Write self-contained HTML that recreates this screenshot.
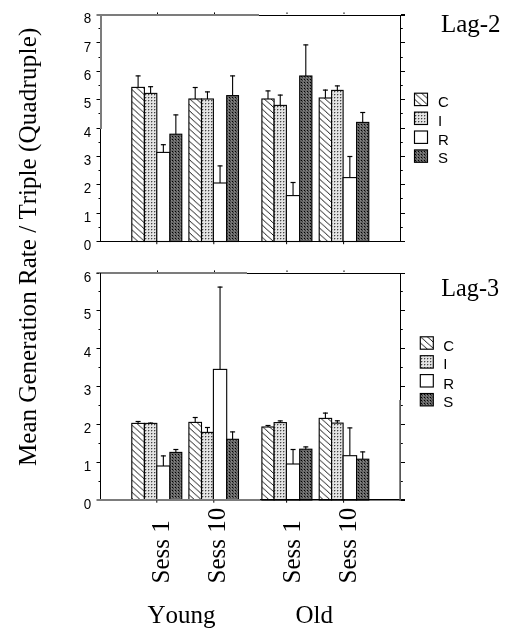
<!DOCTYPE html>
<html><head><meta charset="utf-8"><style>
html,body{margin:0;padding:0;background:#fff;}
svg{display:block;filter:grayscale(1);}
.tl{font-family:"Liberation Sans",sans-serif;font-size:14px;text-anchor:end;fill:#000;}
.lg{font-family:"Liberation Sans",sans-serif;font-size:15px;fill:#000;}
.sf{font-family:"Liberation Serif",serif;font-size:25px;fill:#000;font-kerning:none;}
</style></head><body>
<svg width="515" height="639" viewBox="0 0 515 639">
<defs>
<pattern id="hC" patternUnits="userSpaceOnUse" width="6.778" height="6.1" x="0" y="1.4">
<rect width="6.778" height="6.1" fill="#fff"/>
<line x1="-6.778" y1="-6.1" x2="13.556" y2="12.2" stroke="#000" stroke-width="1" shape-rendering="crispEdges"/>
</pattern>
<pattern id="lC1" patternUnits="userSpaceOnUse" width="6.889" height="6.2" x="414.5" y="93.0">
<rect width="6.889" height="6.2" fill="#fff"/>
<line x1="-6.889" y1="-6.2" x2="13.778" y2="12.4" stroke="#000" stroke-width="1" shape-rendering="crispEdges"/>
</pattern>
<pattern id="lC2" patternUnits="userSpaceOnUse" width="6.889" height="6.2" x="420.3" y="336.6">
<rect width="6.889" height="6.2" fill="#fff"/>
<line x1="-6.889" y1="-6.2" x2="13.778" y2="12.4" stroke="#000" stroke-width="1" shape-rendering="crispEdges"/>
</pattern>
<pattern id="hI" patternUnits="userSpaceOnUse" width="3" height="3">
<rect width="3" height="3" fill="#e4e4e4"/>
<rect x="1" y="1" width="1" height="1" fill="#444"/>
<rect x="2" y="1" width="1" height="1" fill="#b0b0b0"/>
<rect x="1" y="2" width="1" height="1" fill="#b0b0b0"/>
</pattern>
<pattern id="hS" patternUnits="userSpaceOnUse" width="3" height="3">
<rect width="3" height="3" fill="#686868"/>
<rect x="1" y="1" width="1" height="1" fill="#000"/>
<rect x="2" y="2" width="1" height="1" fill="#3a3a3a"/>
<rect x="0" y="2" width="1" height="1" fill="#8a8a8a"/>
</pattern>
</defs>
<rect width="515" height="639" fill="#fff"/>
<line x1="138.10" y1="87.40" x2="138.10" y2="75.40" stroke="#000" stroke-width="1.1"/>
<line x1="135.60" y1="75.90" x2="140.60" y2="75.90" stroke="#000" stroke-width="1.2"/>
<rect x="131.80" y="87.40" width="12.60" height="154.10" fill="url(#hC)" stroke="#000" stroke-width="1.1"/>
<line x1="150.60" y1="93.40" x2="150.60" y2="86.20" stroke="#000" stroke-width="1.1"/>
<line x1="148.10" y1="86.70" x2="153.10" y2="86.70" stroke="#000" stroke-width="1.2"/>
<rect x="144.40" y="93.40" width="12.40" height="148.10" fill="url(#hI)" stroke="#000" stroke-width="1.1"/>
<line x1="163.35" y1="152.40" x2="163.35" y2="144.20" stroke="#000" stroke-width="1.1"/>
<line x1="160.85" y1="144.70" x2="165.85" y2="144.70" stroke="#000" stroke-width="1.2"/>
<rect x="156.80" y="152.40" width="13.10" height="89.10" fill="#fff" stroke="#000" stroke-width="1.1"/>
<line x1="175.85" y1="134.20" x2="175.85" y2="114.40" stroke="#000" stroke-width="1.1"/>
<line x1="173.35" y1="114.90" x2="178.35" y2="114.90" stroke="#000" stroke-width="1.2"/>
<rect x="169.90" y="134.20" width="11.90" height="107.30" fill="url(#hS)" stroke="#000" stroke-width="1.1"/>
<line x1="195.20" y1="99.00" x2="195.20" y2="87.00" stroke="#000" stroke-width="1.1"/>
<line x1="192.70" y1="87.50" x2="197.70" y2="87.50" stroke="#000" stroke-width="1.2"/>
<rect x="188.90" y="99.00" width="12.60" height="142.50" fill="url(#hC)" stroke="#000" stroke-width="1.1"/>
<line x1="207.45" y1="99.00" x2="207.45" y2="91.40" stroke="#000" stroke-width="1.1"/>
<line x1="204.95" y1="91.90" x2="209.95" y2="91.90" stroke="#000" stroke-width="1.2"/>
<rect x="201.50" y="99.00" width="11.90" height="142.50" fill="url(#hI)" stroke="#000" stroke-width="1.1"/>
<line x1="220.05" y1="183.00" x2="220.05" y2="165.40" stroke="#000" stroke-width="1.1"/>
<line x1="217.55" y1="165.90" x2="222.55" y2="165.90" stroke="#000" stroke-width="1.2"/>
<rect x="213.40" y="183.00" width="13.30" height="58.50" fill="#fff" stroke="#000" stroke-width="1.1"/>
<line x1="232.60" y1="95.60" x2="232.60" y2="75.40" stroke="#000" stroke-width="1.1"/>
<line x1="230.10" y1="75.90" x2="235.10" y2="75.90" stroke="#000" stroke-width="1.2"/>
<rect x="226.70" y="95.60" width="11.80" height="145.90" fill="url(#hS)" stroke="#000" stroke-width="1.1"/>
<line x1="268.00" y1="99.00" x2="268.00" y2="90.40" stroke="#000" stroke-width="1.1"/>
<line x1="265.50" y1="90.90" x2="270.50" y2="90.90" stroke="#000" stroke-width="1.2"/>
<rect x="261.90" y="99.00" width="12.20" height="142.50" fill="url(#hC)" stroke="#000" stroke-width="1.1"/>
<line x1="280.25" y1="105.40" x2="280.25" y2="94.60" stroke="#000" stroke-width="1.1"/>
<line x1="277.75" y1="95.10" x2="282.75" y2="95.10" stroke="#000" stroke-width="1.2"/>
<rect x="274.10" y="105.40" width="12.30" height="136.10" fill="url(#hI)" stroke="#000" stroke-width="1.1"/>
<line x1="293.05" y1="195.60" x2="293.05" y2="182.00" stroke="#000" stroke-width="1.1"/>
<line x1="290.55" y1="182.50" x2="295.55" y2="182.50" stroke="#000" stroke-width="1.2"/>
<rect x="286.40" y="195.60" width="13.30" height="45.90" fill="#fff" stroke="#000" stroke-width="1.1"/>
<line x1="305.80" y1="76.00" x2="305.80" y2="44.40" stroke="#000" stroke-width="1.1"/>
<line x1="303.30" y1="44.90" x2="308.30" y2="44.90" stroke="#000" stroke-width="1.2"/>
<rect x="299.70" y="76.00" width="12.20" height="165.50" fill="url(#hS)" stroke="#000" stroke-width="1.1"/>
<line x1="325.40" y1="98.00" x2="325.40" y2="89.60" stroke="#000" stroke-width="1.1"/>
<line x1="322.90" y1="90.10" x2="327.90" y2="90.10" stroke="#000" stroke-width="1.2"/>
<rect x="319.20" y="98.00" width="12.40" height="143.50" fill="url(#hC)" stroke="#000" stroke-width="1.1"/>
<line x1="337.35" y1="90.40" x2="337.35" y2="85.40" stroke="#000" stroke-width="1.1"/>
<line x1="334.85" y1="85.90" x2="339.85" y2="85.90" stroke="#000" stroke-width="1.2"/>
<rect x="331.60" y="90.40" width="11.50" height="151.10" fill="url(#hI)" stroke="#000" stroke-width="1.1"/>
<line x1="349.85" y1="177.60" x2="349.85" y2="156.00" stroke="#000" stroke-width="1.1"/>
<line x1="347.35" y1="156.50" x2="352.35" y2="156.50" stroke="#000" stroke-width="1.2"/>
<rect x="343.10" y="177.60" width="13.50" height="63.90" fill="#fff" stroke="#000" stroke-width="1.1"/>
<line x1="362.70" y1="122.40" x2="362.70" y2="112.00" stroke="#000" stroke-width="1.1"/>
<line x1="360.20" y1="112.50" x2="365.20" y2="112.50" stroke="#000" stroke-width="1.2"/>
<rect x="356.60" y="122.40" width="12.20" height="119.10" fill="url(#hS)" stroke="#000" stroke-width="1.1"/>
<line x1="138.10" y1="423.40" x2="138.10" y2="421.00" stroke="#000" stroke-width="1.1"/>
<line x1="135.60" y1="421.50" x2="140.60" y2="421.50" stroke="#000" stroke-width="1.2"/>
<rect x="131.80" y="423.40" width="12.60" height="76.60" fill="url(#hC)" stroke="#000" stroke-width="1.1"/>
<line x1="150.60" y1="423.40" x2="150.60" y2="422.60" stroke="#000" stroke-width="1.1"/>
<line x1="148.10" y1="423.10" x2="153.10" y2="423.10" stroke="#000" stroke-width="1.2"/>
<rect x="144.40" y="423.40" width="12.40" height="76.60" fill="url(#hI)" stroke="#000" stroke-width="1.1"/>
<line x1="163.35" y1="466.00" x2="163.35" y2="455.40" stroke="#000" stroke-width="1.1"/>
<line x1="160.85" y1="455.90" x2="165.85" y2="455.90" stroke="#000" stroke-width="1.2"/>
<rect x="156.80" y="466.00" width="13.10" height="34.00" fill="#fff" stroke="#000" stroke-width="1.1"/>
<line x1="175.85" y1="452.40" x2="175.85" y2="449.00" stroke="#000" stroke-width="1.1"/>
<line x1="173.35" y1="449.50" x2="178.35" y2="449.50" stroke="#000" stroke-width="1.2"/>
<rect x="169.90" y="452.40" width="11.90" height="47.60" fill="url(#hS)" stroke="#000" stroke-width="1.1"/>
<line x1="195.20" y1="422.40" x2="195.20" y2="417.00" stroke="#000" stroke-width="1.1"/>
<line x1="192.70" y1="417.50" x2="197.70" y2="417.50" stroke="#000" stroke-width="1.2"/>
<rect x="188.90" y="422.40" width="12.60" height="77.60" fill="url(#hC)" stroke="#000" stroke-width="1.1"/>
<line x1="207.45" y1="432.40" x2="207.45" y2="427.00" stroke="#000" stroke-width="1.1"/>
<line x1="204.95" y1="427.50" x2="209.95" y2="427.50" stroke="#000" stroke-width="1.2"/>
<rect x="201.50" y="432.40" width="11.90" height="67.60" fill="url(#hI)" stroke="#000" stroke-width="1.1"/>
<line x1="220.05" y1="369.40" x2="220.05" y2="286.60" stroke="#000" stroke-width="1.1"/>
<line x1="217.55" y1="287.10" x2="222.55" y2="287.10" stroke="#000" stroke-width="1.2"/>
<rect x="213.40" y="369.40" width="13.30" height="130.60" fill="#fff" stroke="#000" stroke-width="1.1"/>
<line x1="232.60" y1="439.30" x2="232.60" y2="431.40" stroke="#000" stroke-width="1.1"/>
<line x1="230.10" y1="431.90" x2="235.10" y2="431.90" stroke="#000" stroke-width="1.2"/>
<rect x="226.70" y="439.30" width="11.80" height="60.70" fill="url(#hS)" stroke="#000" stroke-width="1.1"/>
<line x1="268.00" y1="427.00" x2="268.00" y2="425.00" stroke="#000" stroke-width="1.1"/>
<line x1="265.50" y1="425.50" x2="270.50" y2="425.50" stroke="#000" stroke-width="1.2"/>
<rect x="261.90" y="427.00" width="12.20" height="73.00" fill="url(#hC)" stroke="#000" stroke-width="1.1"/>
<line x1="280.25" y1="422.60" x2="280.25" y2="420.40" stroke="#000" stroke-width="1.1"/>
<line x1="277.75" y1="420.90" x2="282.75" y2="420.90" stroke="#000" stroke-width="1.2"/>
<rect x="274.10" y="422.60" width="12.30" height="77.40" fill="url(#hI)" stroke="#000" stroke-width="1.1"/>
<line x1="293.05" y1="464.00" x2="293.05" y2="449.00" stroke="#000" stroke-width="1.1"/>
<line x1="290.55" y1="449.50" x2="295.55" y2="449.50" stroke="#000" stroke-width="1.2"/>
<rect x="286.40" y="464.00" width="13.30" height="36.00" fill="#fff" stroke="#000" stroke-width="1.1"/>
<line x1="305.80" y1="449.20" x2="305.80" y2="446.40" stroke="#000" stroke-width="1.1"/>
<line x1="303.30" y1="446.90" x2="308.30" y2="446.90" stroke="#000" stroke-width="1.2"/>
<rect x="299.70" y="449.20" width="12.20" height="50.80" fill="url(#hS)" stroke="#000" stroke-width="1.1"/>
<line x1="325.40" y1="418.40" x2="325.40" y2="412.60" stroke="#000" stroke-width="1.1"/>
<line x1="322.90" y1="413.10" x2="327.90" y2="413.10" stroke="#000" stroke-width="1.2"/>
<rect x="319.20" y="418.40" width="12.40" height="81.60" fill="url(#hC)" stroke="#000" stroke-width="1.1"/>
<line x1="337.35" y1="423.10" x2="337.35" y2="420.30" stroke="#000" stroke-width="1.1"/>
<line x1="334.85" y1="420.80" x2="339.85" y2="420.80" stroke="#000" stroke-width="1.2"/>
<rect x="331.60" y="423.10" width="11.50" height="76.90" fill="url(#hI)" stroke="#000" stroke-width="1.1"/>
<line x1="349.85" y1="455.70" x2="349.85" y2="427.40" stroke="#000" stroke-width="1.1"/>
<line x1="347.35" y1="427.90" x2="352.35" y2="427.90" stroke="#000" stroke-width="1.2"/>
<rect x="343.10" y="455.70" width="13.50" height="44.30" fill="#fff" stroke="#000" stroke-width="1.1"/>
<line x1="362.70" y1="459.20" x2="362.70" y2="451.40" stroke="#000" stroke-width="1.1"/>
<line x1="360.20" y1="451.90" x2="365.20" y2="451.90" stroke="#000" stroke-width="1.2"/>
<rect x="356.60" y="459.20" width="12.20" height="40.80" fill="url(#hS)" stroke="#000" stroke-width="1.1"/>
<rect x="96.50" y="14.00" width="162.50" height="2.00" fill="#7c7c7c"/>
<rect x="259.00" y="15.00" width="146.00" height="1.00" fill="#000"/>
<rect x="100.00" y="14.00" width="2.00" height="115.00" fill="#7c7c7c"/>
<rect x="100.00" y="129.00" width="1.00" height="113.00" fill="#000"/>
<rect x="400.00" y="15.00" width="1.00" height="227.00" fill="#000"/>
<rect x="96.50" y="241.00" width="308.50" height="1.00" fill="#000"/>
<rect x="96.50" y="272.00" width="150.50" height="2.00" fill="#7c7c7c"/>
<rect x="247.00" y="273.00" width="158.00" height="1.00" fill="#000"/>
<rect x="96.50" y="273.00" width="2.50" height="1.00" fill="#222"/>
<rect x="100.00" y="273.00" width="1.00" height="227.00" fill="#000"/>
<rect x="96.50" y="499.00" width="163.50" height="2.00" fill="#7c7c7c"/>
<rect x="260.00" y="499.00" width="145.00" height="1.50" fill="#000"/>
<rect x="400.00" y="273.00" width="1.00" height="127.00" fill="#000"/>
<rect x="399.30" y="400.00" width="1.70" height="101.00" fill="#555"/>
<rect x="401.00" y="241.00" width="4.00" height="1.00" fill="#000"/>
<text transform="translate(91.2,250.20) scale(0.96,1.06)" class="tl">0</text>
<rect x="98.50" y="227.00" width="1.50" height="1.00" fill="#000"/>
<rect x="401.00" y="227.00" width="1.80" height="1.00" fill="#000"/>
<rect x="96.50" y="213.00" width="3.50" height="1.00" fill="#000"/>
<rect x="401.00" y="213.00" width="4.00" height="1.00" fill="#000"/>
<text transform="translate(91.2,221.84) scale(0.96,1.06)" class="tl">1</text>
<rect x="98.50" y="198.00" width="1.50" height="1.00" fill="#000"/>
<rect x="401.00" y="198.00" width="1.80" height="1.00" fill="#000"/>
<rect x="96.50" y="184.00" width="3.50" height="1.00" fill="#000"/>
<rect x="401.00" y="184.00" width="4.00" height="1.00" fill="#000"/>
<text transform="translate(91.2,193.47) scale(0.96,1.06)" class="tl">2</text>
<rect x="98.50" y="170.00" width="1.50" height="1.00" fill="#000"/>
<rect x="401.00" y="170.00" width="1.80" height="1.00" fill="#000"/>
<rect x="96.50" y="156.00" width="3.50" height="1.00" fill="#000"/>
<rect x="401.00" y="156.00" width="4.00" height="1.00" fill="#000"/>
<text transform="translate(91.2,165.11) scale(0.96,1.06)" class="tl">3</text>
<rect x="98.50" y="142.00" width="1.50" height="1.00" fill="#000"/>
<rect x="401.00" y="142.00" width="1.80" height="1.00" fill="#000"/>
<rect x="96.50" y="128.00" width="3.50" height="1.00" fill="#000"/>
<rect x="401.00" y="128.00" width="4.00" height="1.00" fill="#000"/>
<text transform="translate(91.2,136.75) scale(0.96,1.06)" class="tl">4</text>
<rect x="98.50" y="113.00" width="1.50" height="1.00" fill="#000"/>
<rect x="401.00" y="113.00" width="1.80" height="1.00" fill="#000"/>
<rect x="96.50" y="99.00" width="3.50" height="1.00" fill="#000"/>
<rect x="401.00" y="99.00" width="4.00" height="1.00" fill="#000"/>
<text transform="translate(91.2,108.39) scale(0.96,1.06)" class="tl">5</text>
<rect x="98.50" y="85.00" width="1.50" height="1.00" fill="#000"/>
<rect x="401.00" y="85.00" width="1.80" height="1.00" fill="#000"/>
<rect x="96.50" y="71.00" width="3.50" height="1.00" fill="#000"/>
<rect x="401.00" y="71.00" width="4.00" height="1.00" fill="#000"/>
<text transform="translate(91.2,80.02) scale(0.96,1.06)" class="tl">6</text>
<rect x="98.50" y="57.00" width="1.50" height="1.00" fill="#000"/>
<rect x="401.00" y="57.00" width="1.80" height="1.00" fill="#000"/>
<rect x="96.50" y="42.00" width="3.50" height="1.00" fill="#000"/>
<rect x="401.00" y="42.00" width="4.00" height="1.00" fill="#000"/>
<text transform="translate(91.2,51.66) scale(0.96,1.06)" class="tl">7</text>
<rect x="98.50" y="28.00" width="1.50" height="1.00" fill="#000"/>
<rect x="401.00" y="28.00" width="1.80" height="1.00" fill="#000"/>
<rect x="401.00" y="14.00" width="4.00" height="1.00" fill="#000"/>
<text transform="translate(91.2,23.30) scale(0.96,1.06)" class="tl">8</text>
<rect x="401.00" y="500.00" width="4.00" height="1.00" fill="#000"/>
<text transform="translate(91.2,508.50) scale(0.96,1.06)" class="tl">0</text>
<rect x="98.50" y="481.00" width="1.50" height="1.00" fill="#000"/>
<rect x="401.00" y="481.00" width="1.80" height="1.00" fill="#000"/>
<rect x="96.50" y="462.00" width="3.50" height="1.00" fill="#000"/>
<rect x="401.00" y="462.00" width="4.00" height="1.00" fill="#000"/>
<text transform="translate(91.2,470.67) scale(0.96,1.06)" class="tl">1</text>
<rect x="98.50" y="443.00" width="1.50" height="1.00" fill="#000"/>
<rect x="401.00" y="443.00" width="1.80" height="1.00" fill="#000"/>
<rect x="96.50" y="424.00" width="3.50" height="1.00" fill="#000"/>
<rect x="401.00" y="424.00" width="4.00" height="1.00" fill="#000"/>
<text transform="translate(91.2,432.83) scale(0.96,1.06)" class="tl">2</text>
<rect x="98.50" y="405.00" width="1.50" height="1.00" fill="#000"/>
<rect x="401.00" y="405.00" width="1.80" height="1.00" fill="#000"/>
<rect x="96.50" y="386.00" width="3.50" height="1.00" fill="#000"/>
<rect x="401.00" y="386.00" width="4.00" height="1.00" fill="#000"/>
<text transform="translate(91.2,395.00) scale(0.96,1.06)" class="tl">3</text>
<rect x="98.50" y="367.00" width="1.50" height="1.00" fill="#000"/>
<rect x="401.00" y="367.00" width="1.80" height="1.00" fill="#000"/>
<rect x="96.50" y="348.00" width="3.50" height="1.00" fill="#000"/>
<rect x="401.00" y="348.00" width="4.00" height="1.00" fill="#000"/>
<text transform="translate(91.2,357.17) scale(0.96,1.06)" class="tl">4</text>
<rect x="98.50" y="329.00" width="1.50" height="1.00" fill="#000"/>
<rect x="401.00" y="329.00" width="1.80" height="1.00" fill="#000"/>
<rect x="96.50" y="310.00" width="3.50" height="1.00" fill="#000"/>
<rect x="401.00" y="310.00" width="4.00" height="1.00" fill="#000"/>
<text transform="translate(91.2,319.33) scale(0.96,1.06)" class="tl">5</text>
<rect x="98.50" y="291.00" width="1.50" height="1.00" fill="#000"/>
<rect x="401.00" y="291.00" width="1.80" height="1.00" fill="#000"/>
<rect x="401.00" y="273.00" width="4.00" height="1.00" fill="#000"/>
<text transform="translate(91.2,281.50) scale(0.96,1.06)" class="tl">6</text>
<rect x="157.00" y="12.40" width="1.00" height="1.60" fill="#000"/>
<rect x="214.00" y="12.40" width="1.00" height="1.60" fill="#000"/>
<rect x="286.50" y="12.40" width="1.00" height="1.60" fill="#000"/>
<rect x="343.50" y="12.40" width="1.00" height="1.60" fill="#000"/>
<rect x="156.30" y="242.00" width="1.00" height="2.20" fill="#000"/>
<rect x="213.30" y="242.00" width="1.00" height="2.20" fill="#000"/>
<rect x="286.10" y="242.00" width="1.00" height="2.20" fill="#000"/>
<rect x="343.10" y="242.00" width="1.00" height="2.20" fill="#000"/>
<rect x="157.00" y="270.40" width="1.00" height="1.60" fill="#000"/>
<rect x="214.00" y="270.40" width="1.00" height="1.60" fill="#000"/>
<rect x="286.50" y="270.40" width="1.00" height="1.60" fill="#000"/>
<rect x="343.50" y="270.40" width="1.00" height="1.60" fill="#000"/>
<rect x="156.30" y="500.50" width="1.00" height="2.20" fill="#000"/>
<rect x="213.30" y="500.50" width="1.00" height="2.20" fill="#000"/>
<rect x="286.10" y="500.50" width="1.00" height="2.20" fill="#000"/>
<rect x="343.10" y="500.50" width="1.00" height="2.20" fill="#000"/>
<rect x="414.5" y="93.20" width="13" height="12.4" fill="url(#lC1)" stroke="#000" stroke-width="1.15"/>
<rect x="414.5" y="112.10" width="13" height="12.4" fill="url(#hI)" stroke="#000" stroke-width="1.15"/>
<rect x="414.5" y="131.00" width="13" height="12.4" fill="#fff" stroke="#000" stroke-width="1.15"/>
<rect x="414.5" y="149.90" width="13" height="12.4" fill="url(#hS)" stroke="#000" stroke-width="1.15"/>
<text x="437.9" y="107" class="lg">C</text>
<text x="437.9" y="125.6" class="lg">I</text>
<text x="437.9" y="145" class="lg">R</text>
<text x="437.9" y="163" class="lg">S</text>
<rect x="420.3" y="336.80" width="13" height="12.4" fill="url(#lC2)" stroke="#000" stroke-width="1.15"/>
<rect x="420.3" y="355.70" width="13" height="12.4" fill="url(#hI)" stroke="#000" stroke-width="1.15"/>
<rect x="420.3" y="374.60" width="13" height="12.4" fill="#fff" stroke="#000" stroke-width="1.15"/>
<rect x="420.3" y="393.50" width="13" height="12.4" fill="url(#hS)" stroke="#000" stroke-width="1.15"/>
<text x="443.3" y="350.6" class="lg">C</text>
<text x="443.3" y="369" class="lg">I</text>
<text x="443.3" y="388.6" class="lg">R</text>
<text x="443.3" y="407.2" class="lg">S</text>
<text x="440.9" y="31.8" class="sf">Lag-2</text>
<text transform="translate(441.3,295.8) scale(0.968,1)" class="sf">Lag-3</text>
<text transform="translate(35.6,466) rotate(-90)" class="sf"><tspan style="letter-spacing:0.03px">Mean Generation Rate / Triple </tspan><tspan style="letter-spacing:0.22px">(Quadruple)</tspan></text>
<text transform="translate(169,583.4) rotate(-90)" class="sf">Sess 1</text>
<text transform="translate(225.2,583.4) rotate(-90)" class="sf">Sess 10</text>
<text transform="translate(300,583.4) rotate(-90)" class="sf">Sess 1</text>
<text transform="translate(356.4,583.4) rotate(-90)" class="sf">Sess 10</text>
<text x="147.5" y="623" class="sf">Young</text>
<text x="295.5" y="623" class="sf">Old</text>
</svg>
</body></html>
